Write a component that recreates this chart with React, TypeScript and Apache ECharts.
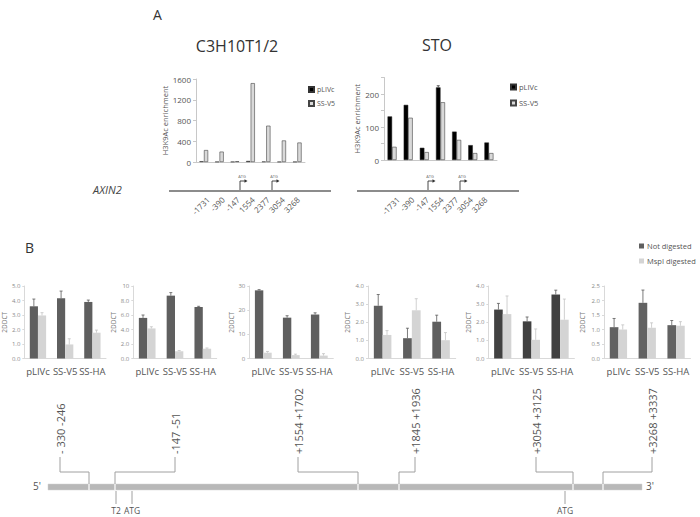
import React, { useEffect, useRef } from 'react';
import * as echarts from 'echarts';

// ---------- Panel A data ----------
const topCategories = ['-1731', '-390', '-147', '1554', '2377', '3054', '3268'];
const c3hPLIVc = [15, 6, 6, 20, 10, 5, 5];
const c3hSSV5 = [230, 200, 15, 1520, 700, 415, 375];
const stoPLIVc = [132, 167, 37, 220, 86, 45, 53];
const stoSSV5 = [40, 128, 24, 175, 61, 21, 21];
const stoPLIVcErr = [0, 0, 0, 5, 0, 0, 0];
const c3hTicks = [0, 400, 800, 1200, 1600];
const stoTicks = [0, 100, 200];

// ---------- Panel B data ----------
const bCategories = ['pLIVc', 'SS-V5', 'SS-HA'];
const p1Not = [3.6, 4.15, 3.9];
const p1NotErr = [0.5, 0.5, 0.13];
const p1Msp = [2.97, 0.97, 1.78];
const p1MspErr = [0.19, 0.39, 0.18];
const p2Not = [5.6, 8.67, 7.1];
const p2NotErr = [0.4, 0.42, 0.1];
const p2Msp = [4.15, 1.0, 1.35];
const p2MspErr = [0.23, 0.1, 0.1];
const p3Not = [28.2, 16.9, 18.2];
const p3NotErr = [0.3, 0.8, 0.7];
const p3Msp = [2.4, 1.4, 1.2];
const p3MspErr = [0.5, 0.4, 0.8];
const p4Not = [2.91, 1.12, 2.03];
const p4NotErr = [0.62, 0.55, 0.36];
const p4Msp = [1.3, 2.66, 1.01];
const p4MspErr = [0.24, 0.64, 0.42];
const p5Not = [2.7, 2.05, 3.53];
const p5NotErr = [0.34, 0.24, 0.24];
const p5Msp = [2.45, 1.03, 2.14];
const p5MspErr = [1.0, 0.6, 1.14];
const p6Not = [1.08, 1.92, 1.15];
const p6NotErr = [0.3, 0.44, 0.16];
const p6Msp = [1.0, 1.06, 1.13];
const p6MspErr = [0.16, 0.17, 0.14];
const panelMax = [5, 10, 30, 4, 4, 2.5];
const panelStep = [1, 2, 10, 1, 1, 0.5];

// gene map labels
const regionLabels = ['- 330 -246', '-147 -51', '+1554 +1702', '+1845 +1936', '+3054 +3125', '+3268 +3337'];
const belowLabels = ['T2', 'ATG', 'ATG'];

const FONT = '"Open Sans", "Liberation Sans", sans-serif';
const TXT = '#555';

export default function App() {
  const ref = useRef<HTMLDivElement>(null);
  useEffect(() => {
    if (!ref.current) return;
    const chart = echarts.init(ref.current, undefined, { renderer: 'svg' });

    const panels = [
      { not: p1Not, notErr: p1NotErr, msp: p1Msp, mspErr: p1MspErr },
      { not: p2Not, notErr: p2NotErr, msp: p2Msp, mspErr: p2MspErr },
      { not: p3Not, notErr: p3NotErr, msp: p3Msp, mspErr: p3MspErr },
      { not: p4Not, notErr: p4NotErr, msp: p4Msp, mspErr: p4MspErr },
      { not: p5Not, notErr: p5NotErr, msp: p5Msp, mspErr: p5MspErr },
      { not: p6Not, notErr: p6NotErr, msp: p6Msp, mspErr: p6MspErr },
    ];
    // layout of the six lower grids
    const bLeft = [20.75, 133.3, 249.3, 368, 488.4, 604];
    const bWidth = [85.25, 83.4, 84, 87.7, 86, 86.5];
    const bNameGap = [15, 15, 14, 17, 16, 18];
    const notColors = ['#5f5f5f', '#5f5f5f', '#5f5f5f', '#5f5f5f', '#414141', '#626262'];
    const mspColor = '#d4d4d4';

    const grid: any[] = [
      { left: 196, top: 79, width: 109, height: 83 },
      { left: 384, top: 77.5, width: 113, height: 82.5 },
    ];
    bLeft.forEach((l, i) => grid.push({ left: l, top: 286, width: bWidth[i], height: 72.5 }));

    const xAxis: any[] = [
      {
        gridIndex: 0, type: 'category', data: topCategories,
        axisLine: { lineStyle: { color: '#c8c8c8' } }, axisTick: { show: false }, axisLabel: { show: false },
      },
      {
        gridIndex: 1, type: 'category', data: topCategories,
        axisLine: { lineStyle: { color: '#c8c8c8' } }, axisTick: { show: false }, axisLabel: { show: false },
      },
    ];
    const yAxis: any[] = [
      {
        gridIndex: 0, type: 'value', min: c3hTicks[0], max: c3hTicks[c3hTicks.length - 1], interval: 400,
        name: 'H3K9Ac enrichment', nameLocation: 'middle', nameGap: 26,
        nameTextStyle: { fontSize: 7.5, color: TXT, fontFamily: FONT },
        axisLine: { show: true, lineStyle: { color: '#c8c8c8' } },
        axisTick: { show: true, length: 3, lineStyle: { color: '#c8c8c8' } },
        axisLabel: { fontSize: 8, color: TXT, fontFamily: FONT, margin: 5, formatter: (v: number) => String(v) },
        splitLine: { show: false },
      },
      {
        gridIndex: 1, type: 'value', min: 0, max: 250, interval: 50,
        name: 'H3K9Ac enrichment', nameLocation: 'middle', nameGap: 22,
        nameTextStyle: { fontSize: 7.5, color: TXT, fontFamily: FONT },
        axisLine: { show: true, lineStyle: { color: '#c8c8c8' } },
        axisTick: { show: true, length: 3, lineStyle: { color: '#c8c8c8' } },
        axisLabel: {
          fontSize: 8, color: TXT, fontFamily: FONT, margin: 5,
          formatter: (v: number) => (stoTicks.includes(v) ? String(v) : ''),
        },
        splitLine: { show: false },
      },
    ];

    const series: any[] = [
      {
        name: 'pLIVc', type: 'bar', xAxisIndex: 0, yAxisIndex: 0, data: c3hPLIVc,
        barWidth: '27%', barGap: '8%', itemStyle: { color: '#000', borderColor: '#333', borderWidth: 0.5 },
      },
      {
        name: 'SS-V5', type: 'bar', xAxisIndex: 0, yAxisIndex: 0, data: c3hSSV5,
        barWidth: '27%', barGap: '8%', itemStyle: { color: '#d9d9d9', borderColor: '#444', borderWidth: 0.6 },
      },
      {
        name: 'pLIVc', type: 'bar', xAxisIndex: 1, yAxisIndex: 1, data: stoPLIVc,
        barWidth: '28%', barGap: '0%', itemStyle: { color: '#000', borderColor: '#222', borderWidth: 0.5 },
      },
      {
        name: 'SS-V5', type: 'bar', xAxisIndex: 1, yAxisIndex: 1, data: stoSSV5,
        barWidth: '28%', barGap: '0%', itemStyle: { color: '#d9d9d9', borderColor: '#444', borderWidth: 0.6 },
      },
    ];

    const errRender = (frac: number, colNeg: string, colPos: string) => (params: any, api: any) => {
      const ci = api.value(0);
      const v = api.value(1);
      const e = api.value(2);
      const side = api.value(3);
      if (!e) return { type: 'group', children: [] };
      const bw = api.size([1, 0])[0] * frac;
      const base = api.coord([ci, v]);
      const top = api.coord([ci, v + e]);
      const x = base[0] + (side * bw) / 2;
      const stroke = side < 0 ? colNeg : colPos;
      return {
        type: 'group',
        children: [
          { type: 'line', shape: { x1: x, y1: base[1], x2: x, y2: top[1] }, style: { stroke, lineWidth: 0.8 } },
          { type: 'line', shape: { x1: x - 1.5, y1: top[1], x2: x + 1.5, y2: top[1] }, style: { stroke, lineWidth: 0.8 } },
        ],
      };
    };

    series.push({
      type: 'custom', xAxisIndex: 1, yAxisIndex: 1, z: 5,
      renderItem: errRender(0.28, '#333', '#777'),
      encode: { x: 0, y: 1 },
      data: stoPLIVc.map((v, i) => [i, v, stoPLIVcErr[i], -1]),
    });

    panels.forEach((p, k) => {
      const gi = k + 2;
      const max = panelMax[k];
      const step = panelStep[k];
      xAxis.push({
        gridIndex: gi, type: 'category', data: bCategories,
        axisLine: { lineStyle: { color: '#d9d9d9' } }, axisTick: { show: false },
        axisLabel: { fontSize: 9.5, color: TXT, fontFamily: FONT, margin: 8, interval: 0 },
      });
      yAxis.push({
        gridIndex: gi, type: 'value', min: 0, max, interval: step,
        name: '2DDCT', nameLocation: 'middle', nameGap: bNameGap[k],
        nameTextStyle: { fontSize: 6.5, color: '#777', fontFamily: FONT },
        axisLine: { show: true, lineStyle: { color: '#d9d9d9' } },
        axisTick: { show: true, length: 2, lineStyle: { color: '#d9d9d9' } },
        axisLabel: {
          fontSize: 6, color: '#8a8a8a', fontFamily: FONT, margin: 4,
          formatter: (v: number) => (k === 2 ? String(v) : v >= 10 ? String(v) : v.toFixed(1)),
        },
        splitLine: { show: false },
      });
      series.push({
        name: 'Not digested', type: 'bar', xAxisIndex: gi, yAxisIndex: gi, data: p.not,
        barWidth: '30%', barGap: '0%', itemStyle: { color: notColors[k] },
      });
      series.push({
        name: 'MspI digested', type: 'bar', xAxisIndex: gi, yAxisIndex: gi, data: p.msp,
        barWidth: '30%', barGap: '0%', itemStyle: { color: mspColor },
      });
      series.push({
        type: 'custom', xAxisIndex: gi, yAxisIndex: gi, z: 5,
        renderItem: errRender(0.3, '#5a5a5a', '#c4c4c4'),
        encode: { x: 0, y: 1 },
        data: [
          ...p.not.map((v, i) => [i, v, p.notErr[i], -1]),
          ...p.msp.map((v, i) => [i, v, p.mspErr[i], 1]),
        ],
      });
    });

    // ---------- graphics ----------
    const graphic: any[] = [];
    const txt = (x: number, y: number, text: string, extra: any = {}, rot = 0) => ({
      type: 'text', x, y, rotation: rot,
      style: { text, fill: TXT, fontFamily: FONT, fontSize: 10, align: 'left', verticalAlign: 'middle', ...extra },
    });
    graphic.push(txt(153, 14, 'A', { fontSize: 14, fill: '#333' }));
    graphic.push(txt(237, 46, 'C3H10T1/2', { fontSize: 16, fill: '#333', align: 'center' }));
    graphic.push(txt(437, 45, 'STO', { fontSize: 16, fill: '#333', align: 'center' }));
    graphic.push(txt(93, 189, 'AXIN2', { fontSize: 11, fill: '#444', fontStyle: 'italic' }));
    graphic.push(txt(25, 247, 'B', { fontSize: 14, fill: '#333' }));

    // gene lines of panel A
    const geneA = [
      { x1: 169, x2: 331, atg: [240, 272], labelStart: 208, labelStep: 15 },
      { x1: 357, x2: 519, atg: [428, 460], labelStart: 398, labelStep: 14.6 },
    ];
    geneA.forEach((g) => {
      graphic.push({ type: 'line', shape: { x1: g.x1, y1: 191, x2: g.x2, y2: 191 }, style: { stroke: '#8c8c8c', lineWidth: 2 } });
      g.atg.forEach((ax) => {
        graphic.push({ type: 'polyline', shape: { points: [[ax, 190], [ax, 181], [ax + 5, 181]] }, style: { stroke: '#333', lineWidth: 0.9, fill: null } });
        graphic.push({ type: 'polygon', shape: { points: [[ax + 7.5, 181], [ax + 4.5, 179.3], [ax + 4.5, 182.7]] }, style: { fill: '#333' } });
        graphic.push(txt(ax + 2, 176.5, 'ATG', { fontSize: 4, fill: '#666', align: 'center' }));
      });
      topCategories.forEach((lab, i) => {
        graphic.push(txt(g.labelStart + i * g.labelStep, 198, lab, { fontSize: 8, align: 'right' }, Math.PI / 4));
      });
    });

    // gene map of panel B
    const barY = 484;
    graphic.push({ type: 'rect', shape: { x: 48, y: barY, width: 594, height: 6 }, style: { fill: '#b8b8b8', stroke: '#d0d0d0', lineWidth: 0.5 } });
    const junctionX = [89, 115, 358, 399, 573, 603];
    const labelX = [60, 175, 298, 415, 536, 652];
    junctionX.forEach((jx) => {
      graphic.push({ type: 'line', shape: { x1: jx, y1: barY, x2: jx, y2: barY + 6 }, style: { stroke: '#fff', lineWidth: 1.2 } });
    });
    regionLabels.forEach((lab, i) => {
      const lx = labelX[i];
      const jx = junctionX[i];
      graphic.push(txt(lx, 454, lab, { fontSize: 11, fill: '#555' }, Math.PI / 2));
      graphic.push({
        type: 'polyline',
        shape: { points: [[lx, 457], [lx, 472], [jx, 472], [jx, barY]] },
        style: { stroke: '#a0a0a0', lineWidth: 1, fill: null },
      });
    });
    const belowX = [116, 132, 565];
    belowLabels.forEach((lab, i) => {
      graphic.push({ type: 'line', shape: { x1: belowX[i], y1: barY + 7, x2: belowX[i], y2: 504 }, style: { stroke: '#a0a0a0', lineWidth: 1 } });
      graphic.push(txt(belowX[i], 510.5, lab, { fontSize: 8.5, align: 'center' }));
    });
    graphic.push(txt(37, 486, "5'", { fontSize: 10, align: 'center' }));
    graphic.push(txt(650, 486, "3'", { fontSize: 10, align: 'center' }));

    chart.setOption({
      animation: false,
      backgroundColor: '#fff',
      textStyle: { fontFamily: FONT },
      grid, xAxis, yAxis, series, graphic,
      legend: [
        {
          data: ['pLIVc', 'SS-V5'], orient: 'vertical', left: 303, top: 81, icon: 'rect',
          itemWidth: 5, itemHeight: 5, itemGap: 7, selectedMode: false,
          textStyle: { fontSize: 7, color: TXT, fontFamily: FONT, padding: [0, 0, 0, -2] },
        },
        {
          data: ['pLIVc', 'SS-V5'], orient: 'vertical', left: 505, top: 78, icon: 'rect',
          itemWidth: 5, itemHeight: 5, itemGap: 8, selectedMode: false,
          textStyle: { fontSize: 7.5, color: TXT, fontFamily: FONT, padding: [0, 0, 0, -2] },
        },
        {
          data: ['Not digested', 'MspI digested'], orient: 'vertical', left: 634, top: 237, icon: 'rect',
          itemWidth: 5, itemHeight: 5, itemGap: 7, selectedMode: false,
          textStyle: { fontSize: 7.5, color: TXT, fontFamily: FONT, padding: [0, 0, 0, -2] },
        },
      ],
    });
    return () => chart.dispose();
  }, []);
  return <div ref={ref} style={{ position: 'absolute', left: 0, top: 0, width: 700, height: 517, background: '#fff' }} />;
}
